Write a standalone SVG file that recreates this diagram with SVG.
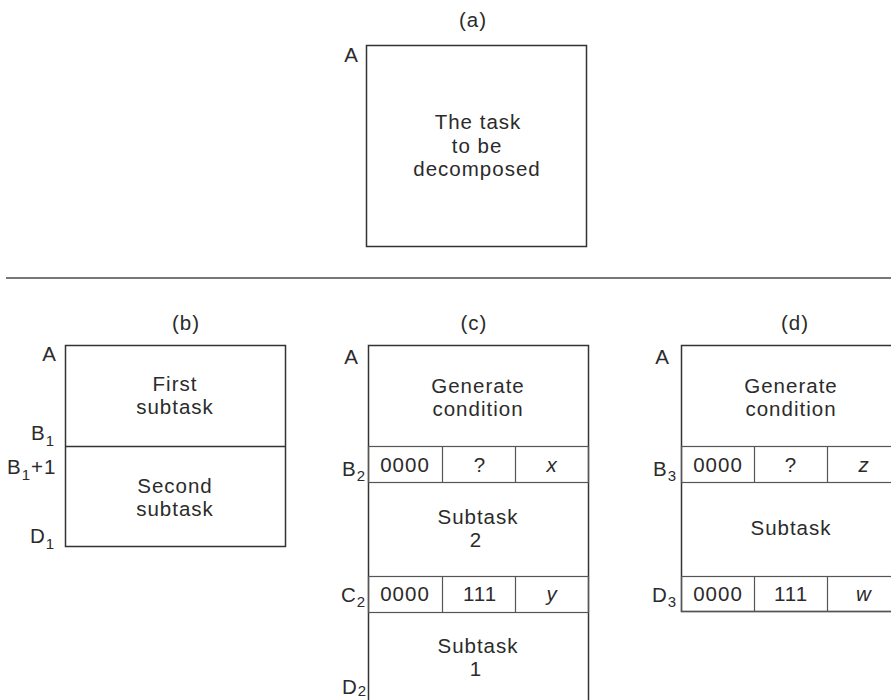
<svg xmlns="http://www.w3.org/2000/svg" width="891" height="700" viewBox="0 0 891 700">
<style>
text{font-family:"Liberation Sans",Arial,sans-serif;font-size:20.5px;fill:#2b2b2b;letter-spacing:1px}
.c{text-anchor:middle}
.e{text-anchor:end}
.i{font-style:italic}
.sub{font-size:15px}
.box{fill:#fff;stroke:#333;stroke-width:1.5}
.div{fill:none;stroke:#333;stroke-width:1.3}
.cell{fill:none;stroke:#555;stroke-width:1.2}
.rule{stroke:#777;stroke-width:2}
</style>
<rect width="891" height="700" fill="#fff"/>

<g id="panel-a">
<text class="c" x="473" y="27">(a)</text>
<text class="e" x="359" y="62">A</text>
<rect class="box" x="366.5" y="45.5" width="220" height="201"/>
<text class="c" x="478" y="129">The task</text>
<text class="c" x="477" y="152.5">to be</text>
<text class="c" x="477" y="176">decomposed</text>
</g>

<g id="separator">
<line class="rule" x1="6" y1="278" x2="891" y2="278"/>
</g>

<g id="panel-b">
<text class="c" x="186" y="330">(b)</text>
<rect class="box" x="65.5" y="345.5" width="220" height="201"/>
<line class="div" x1="65.5" y1="446.5" x2="285.5" y2="446.5"/>
<text class="e" x="57" y="361">A</text>
<text x="31" y="440">B<tspan class="sub" dy="6">1</tspan></text>
<text x="7" y="474">B<tspan class="sub" dy="6">1</tspan><tspan dy="-6">+1</tspan></text>
<text x="30" y="543">D<tspan class="sub" dy="6">1</tspan></text>
<text class="c" x="175" y="390.5">First</text>
<text class="c" x="175" y="413.5">subtask</text>
<text class="c" x="175" y="492.5">Second</text>
<text class="c" x="175" y="515.5">subtask</text>
</g>

<g id="panel-c">
<text class="c" x="474" y="330">(c)</text>
<rect class="box" x="368.5" y="345.5" width="220" height="370"/>
<text class="e" x="359" y="364">A</text>
<text class="c" x="478" y="392.5">Generate</text>
<text class="c" x="478" y="415.5">condition</text>
<g id="row-b2">
<rect class="cell" x="368.5" y="446.5" width="220" height="36"/>
<line class="cell" x1="442.5" y1="446.5" x2="442.5" y2="482.5"/>
<line class="cell" x1="515.5" y1="446.5" x2="515.5" y2="482.5"/>
<text x="342" y="476">B<tspan class="sub" dy="5">2</tspan></text>
<text class="c" x="405" y="472">0000</text>
<text class="c" x="480" y="472">?</text>
<text class="c i" x="552" y="472">x</text>
</g>
<text class="c" x="478" y="523.5">Subtask</text>
<text class="c" x="476" y="546.5">2</text>
<g id="row-c2">
<rect class="cell" x="368.5" y="576.5" width="220" height="36"/>
<line class="cell" x1="442.5" y1="576.5" x2="442.5" y2="612.5"/>
<line class="cell" x1="515.5" y1="576.5" x2="515.5" y2="612.5"/>
<text x="341" y="602">C<tspan class="sub" dy="5">2</tspan></text>
<text class="c" x="405" y="601">0000</text>
<text class="c" x="480" y="601">111</text>
<text class="c i" x="552" y="601">y</text>
</g>
<text class="c" x="478" y="652.5">Subtask</text>
<text class="c" x="476" y="675.5">1</text>
<text x="342" y="694">D<tspan class="sub" dy="2">2</tspan></text>
</g>

<g id="panel-d">
<text class="c" x="795" y="330">(d)</text>
<rect class="box" x="681.5" y="345.5" width="220" height="266"/>
<text class="e" x="670" y="364">A</text>
<text class="c" x="791" y="392.5">Generate</text>
<text class="c" x="791" y="415.5">condition</text>
<g id="row-b3">
<rect class="cell" x="681.5" y="446.5" width="220" height="36"/>
<line class="cell" x1="754.5" y1="446.5" x2="754.5" y2="482.5"/>
<line class="cell" x1="827.5" y1="446.5" x2="827.5" y2="482.5"/>
<text x="653" y="476">B<tspan class="sub" dy="5">3</tspan></text>
<text class="c" x="718" y="472">0000</text>
<text class="c" x="791" y="472">?</text>
<text class="c i" x="864" y="472">z</text>
</g>
<text class="c" x="791" y="535">Subtask</text>
<g id="row-d3">
<rect class="cell" x="681.5" y="576.5" width="220" height="35"/>
<line class="cell" x1="754.5" y1="576.5" x2="754.5" y2="611.5"/>
<line class="cell" x1="827.5" y1="576.5" x2="827.5" y2="611.5"/>
<text x="652" y="602">D<tspan class="sub" dy="5">3</tspan></text>
<text class="c" x="718" y="601">0000</text>
<text class="c" x="791" y="601">111</text>
<text class="c i" x="864" y="601">w</text>
</g>
</g>
</svg>
